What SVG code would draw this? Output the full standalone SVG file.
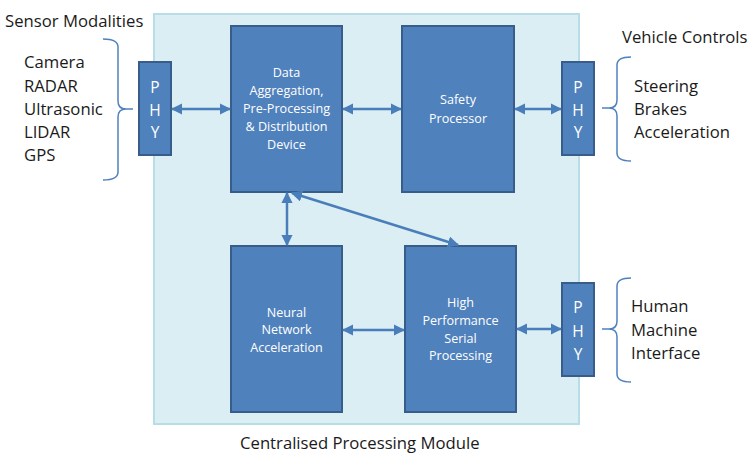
<svg xmlns="http://www.w3.org/2000/svg" width="756" height="467" viewBox="0 0 756 467">
<defs>
<marker id="ah" viewBox="0 0 10 10" refX="9" refY="5" markerWidth="4.5" markerHeight="4.5" orient="auto-start-reverse" markerUnits="strokeWidth">
<path d="M0,0 L10,5 L0,10 z" fill="#4A7EBB"/>
</marker>
<style>
.box{fill:#4F81BD;stroke:#385D8A;stroke-width:2}
.wt{font-family:"Open Sans","Liberation Sans",sans-serif;font-size:12.6px;fill:#FFFFFF;text-anchor:middle}
.phy{font-family:"Open Sans","Liberation Sans",sans-serif;font-size:15.5px;fill:#FFFFFF;text-anchor:middle}
.lbl{font-family:"Open Sans","Liberation Sans",sans-serif;font-size:16.7px;fill:#1A1A1A}
.con{stroke:#4A7EBB;stroke-width:2.5;fill:none;marker-start:url(#ah);marker-end:url(#ah)}
.brace{stroke:#4F81BD;stroke-width:1.5;fill:none}
</style>
</defs>
<rect id="module" x="154" y="14" width="425" height="410" fill="#DAEEF3" stroke="#B7DDE8" stroke-width="2"/>
<text class="lbl" x="240" y="449">Centralised Processing Module</text>

<g id="sensors">
<text class="lbl" x="5" y="27">Sensor Modalities</text>
<text class="lbl" x="24" y="68">Camera</text>
<text class="lbl" x="24" y="92">RADAR</text>
<text class="lbl" x="24" y="115">Ultrasonic</text>
<text class="lbl" x="24" y="138">LIDAR</text>
<text class="lbl" x="24" y="161">GPS</text>
<path class="brace" d="M103,39 Q118,39 118,47 L118,101 Q118,109 126,109 L133,109 M126,109 Q118,109 118,117 L118,172 Q118,180 103,180"/>
</g>

<g id="vehicle">
<text class="lbl" x="622" y="43">Vehicle Controls</text>
<text class="lbl" x="634" y="92">Steering</text>
<text class="lbl" x="634" y="115">Brakes</text>
<text class="lbl" x="634" y="138">Acceleration</text>
<path class="brace" d="M631,57 Q617,57 617,65 L617,100 Q617,108 609,108 L602,108 M609,108 Q617,108 617,116 L617,153 Q617,161 631,161"/>
</g>

<g id="hmi">
<text class="lbl" x="631" y="312">Human</text>
<text class="lbl" x="631" y="336">Machine</text>
<text class="lbl" x="631" y="359">Interface</text>
<path class="brace" d="M631,278 Q617,278 617,286 L617,321 Q617,329 609,329 L602,329 M609,329 Q617,329 617,337 L617,374 Q617,382 631,382"/>
</g>

<g id="phy-in">
<rect class="box" x="139" y="62" width="32" height="93"/>
<text class="phy" x="155" y="93">P</text>
<text class="phy" x="155" y="116">H</text>
<text class="phy" x="155" y="138">Y</text>
</g>

<g id="data-agg">
<rect class="box" x="231" y="26" width="111" height="166"/>
<text class="wt" x="286.5" y="77">Data</text>
<text class="wt" x="286.5" y="95">Aggregation,</text>
<text class="wt" x="286.5" y="113">Pre-Processing</text>
<text class="wt" x="286.5" y="131">&amp; Distribution</text>
<text class="wt" x="286.5" y="149">Device</text>
</g>

<g id="safety">
<rect class="box" x="402" y="26" width="112" height="166"/>
<text class="wt" x="458" y="104">Safety</text>
<text class="wt" x="458" y="123">Processor</text>
</g>

<g id="phy-vc">
<rect class="box" x="562" y="62" width="32" height="93"/>
<text class="phy" x="578" y="93">P</text>
<text class="phy" x="578" y="116">H</text>
<text class="phy" x="578" y="138">Y</text>
</g>

<g id="neural">
<rect class="box" x="231" y="246" width="111" height="166"/>
<text class="wt" x="286.5" y="317">Neural</text>
<text class="wt" x="286.5" y="334">Network</text>
<text class="wt" x="286.5" y="352">Acceleration</text>
</g>

<g id="hps">
<rect class="box" x="405" y="246" width="111" height="166"/>
<text class="wt" x="460.5" y="307">High</text>
<text class="wt" x="460.5" y="325">Performance</text>
<text class="wt" x="460.5" y="343">Serial</text>
<text class="wt" x="460.5" y="360">Processing</text>
</g>

<g id="phy-hmi">
<rect class="box" x="562" y="283" width="32" height="93"/>
<text class="phy" x="578" y="313">P</text>
<text class="phy" x="578" y="337">H</text>
<text class="phy" x="578" y="360">Y</text>
</g>

<g id="connectors">
<line class="con" x1="172" y1="109" x2="230" y2="109"/>
<line class="con" x1="343" y1="109" x2="401" y2="109"/>
<line class="con" x1="515" y1="109" x2="561" y2="109"/>
<line class="con" x1="287" y1="193" x2="287" y2="245"/>
<line class="con" x1="292" y1="193" x2="458" y2="245"/>
<line class="con" x1="343" y1="330" x2="404" y2="330"/>
<line class="con" x1="517" y1="329" x2="561" y2="329"/>
</g>
</svg>
